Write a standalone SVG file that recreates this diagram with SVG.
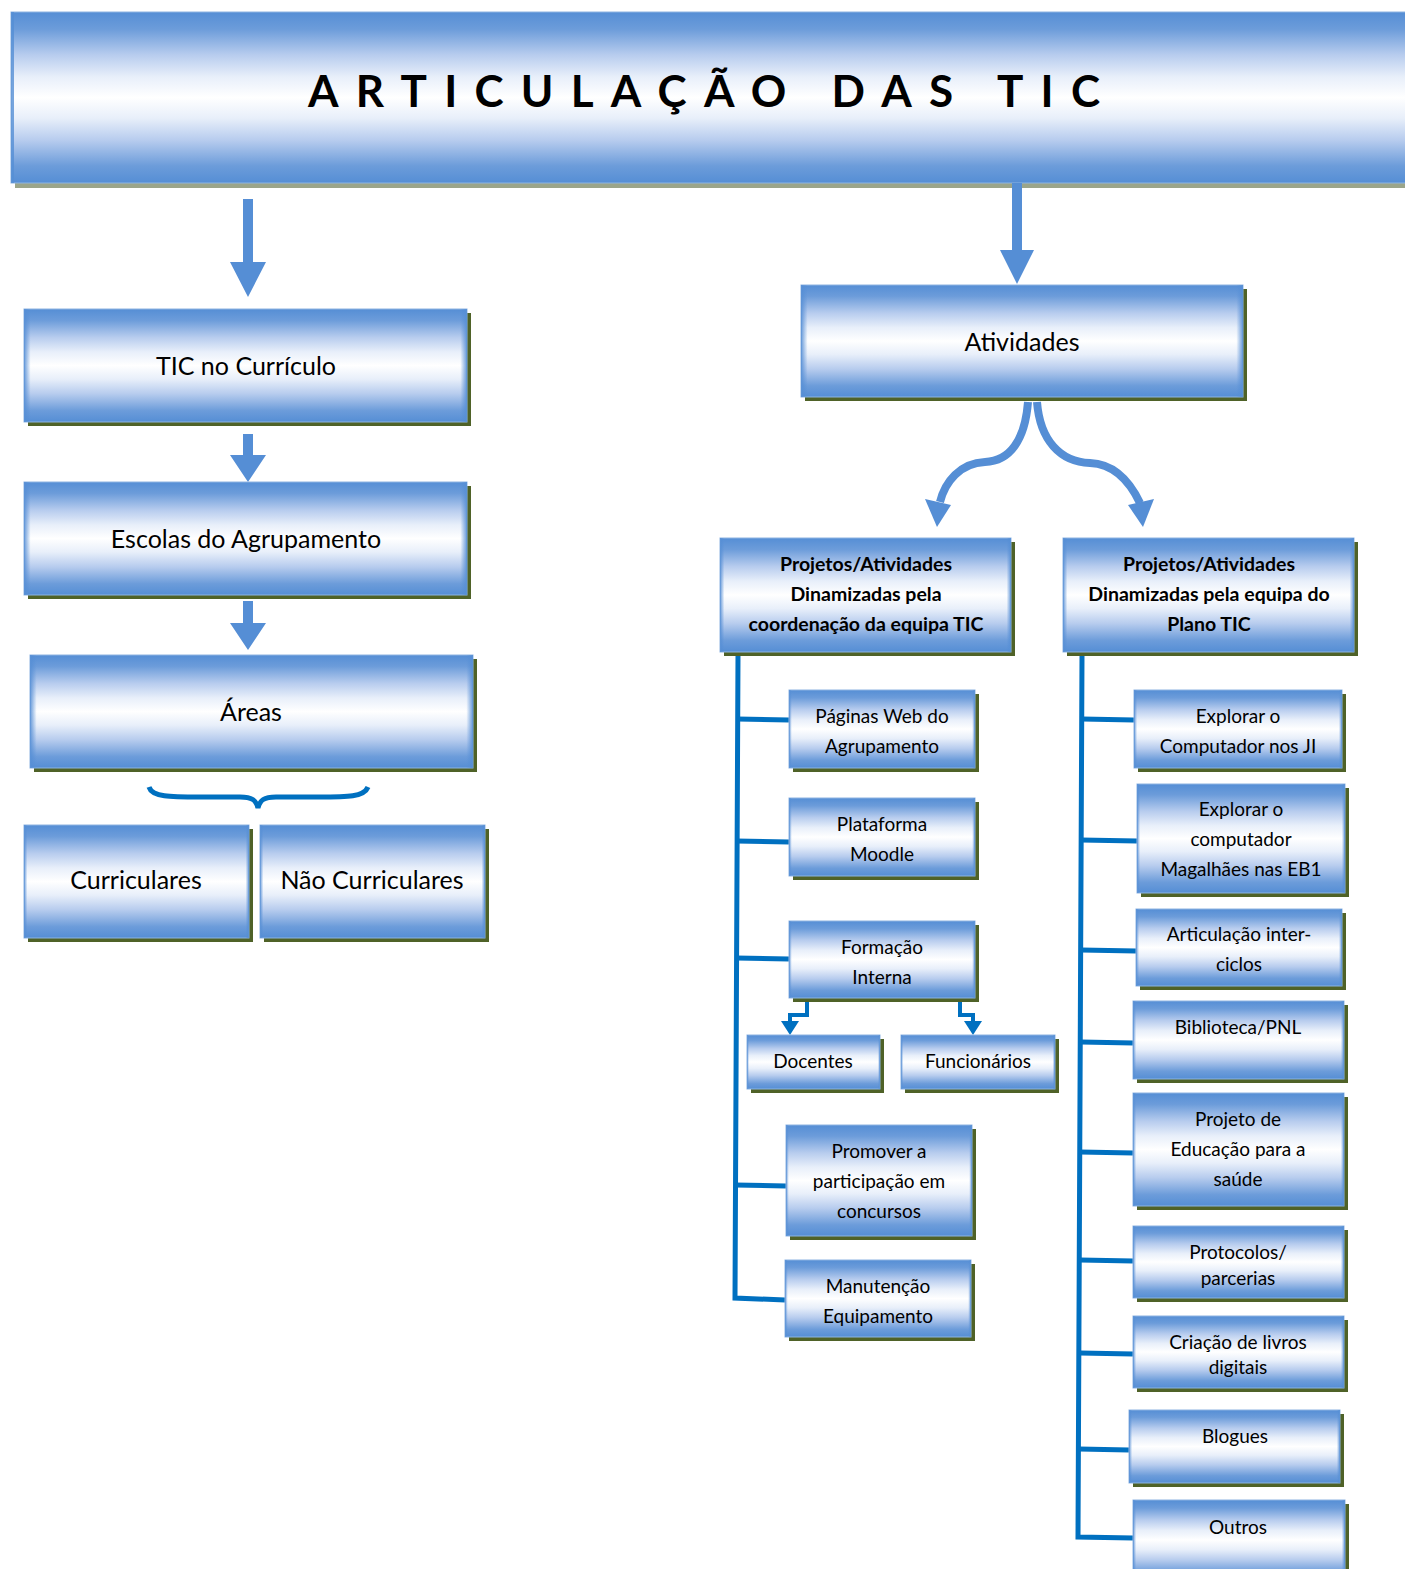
<svg xmlns="http://www.w3.org/2000/svg" width="1405" height="1569" viewBox="0 0 1405 1569">
<defs>
<linearGradient id="g" x1="0" y1="0" x2="0" y2="1">
<stop offset="0" stop-color="#558ED5"/>
<stop offset="0.1" stop-color="#6C9CDA"/>
<stop offset="0.25" stop-color="#B7CCEE"/>
<stop offset="0.38" stop-color="#E8EFFA"/>
<stop offset="0.5" stop-color="#FFFFFF"/>
<stop offset="0.62" stop-color="#E8EFFA"/>
<stop offset="0.75" stop-color="#B7CCEE"/>
<stop offset="0.9" stop-color="#6C9CDA"/>
<stop offset="1" stop-color="#558ED5"/>
</linearGradient>
<linearGradient id="e" x1="0" y1="0" x2="1" y2="0">
<stop offset="0" stop-color="#558ED5" stop-opacity="0.9"/>
<stop offset="0.015" stop-color="#558ED5" stop-opacity="0"/>
<stop offset="0.985" stop-color="#558ED5" stop-opacity="0"/>
<stop offset="1" stop-color="#558ED5" stop-opacity="0.9"/>
</linearGradient>
<style>
.box{fill:url(#g);stroke:#8DB4E2;stroke-width:1}
.edge{fill:url(#e)}
.sh{fill:#4F6228}
.t{font-family:Lato,"Open Sans","Liberation Sans",sans-serif;fill:#000;text-anchor:middle}
.h{font-size:25px}
.s{font-size:19px}
.b{font-size:19.5px;font-weight:bold}
.ln{fill:none;stroke:#0070C0;stroke-width:5}
.ln2{fill:none;stroke:#0070C0;stroke-width:4}
.ba{fill:#558ED5}
.cv{fill:none;stroke:#558ED5;stroke-width:8}
</style>
</defs>
<rect width="1405" height="1569" fill="#FFFFFF"/>

<g id="title">
<rect x="15" y="16" width="1395" height="172" fill="#9BA58A"/>
<rect class="box" x="11" y="12" width="1400" height="171"/>
<rect x="11" y="12" width="3" height="171" fill="#558ED5" opacity="0.8"/>
<text class="t" x="308" y="107" font-size="44" font-weight="bold" style="text-anchor:start" textLength="792" lengthAdjust="spacing">ARTICULAÇÃO DAS TIC</text>
</g>

<g id="connectors">
<polygon class="ba" points="243,199 253,199 253,262 266,262 248,297 230,262 243,262"/>
<polygon class="ba" points="243,434 253,434 253,455 266,455 248,482 230,455 243,455"/>
<polygon class="ba" points="243,601 253,601 253,623 266,623 248,650 230,623 243,623"/>
<polygon class="ba" points="1012,183 1022,183 1022,250 1034,250 1017,284 1000,250 1012,250"/>
<path class="cv" d="M1028,402 C1025,440 1010,461 985,462 C960,463 945,482 940,502"/>
<polygon class="ba" points="925,499 951,505 937,527"/>
<path class="cv" d="M1037,402 C1040,440 1060,462 1090,463 C1115,464 1130,482 1140,503"/>
<polygon class="ba" points="1128,505 1154,499 1143,527"/>
<path class="ln" d="M149,787 C152,797 170,797 200,797 L240,797 C252,797 256,800 258,808 C260,800 264,797 276,797 L318,797 C348,797 364,797 368,787"/>
<path class="ln" d="M738,655 L735,1298 L785,1300"/>
<path class="ln" d="M737,719 L789,720"/>
<path class="ln" d="M736,841 L789,842"/>
<path class="ln" d="M736,958 L789,959"/>
<path class="ln" d="M735,1185 L786,1186"/>
<path class="ln" d="M1082,655 L1078,1537 L1133,1538"/>
<path class="ln" d="M1082,719 L1134,720"/>
<path class="ln" d="M1081,840 L1137,841"/>
<path class="ln" d="M1081,950 L1136,951"/>
<path class="ln" d="M1081,1042 L1133,1043"/>
<path class="ln" d="M1080,1152 L1133,1153"/>
<path class="ln" d="M1080,1260 L1133,1261"/>
<path class="ln" d="M1080,1353 L1133,1354"/>
<path class="ln" d="M1079,1449 L1129,1450"/>
<path class="ln2" d="M807,998 V1015 H790 V1022"/>
<polygon fill="#0070C0" points="781,1021 799,1021 790,1035"/>
<path class="ln2" d="M960,998 V1015 H973 V1022"/>
<polygon fill="#0070C0" points="964,1021 982,1021 973,1035"/>
</g>

<g id="n-curriculo">
<rect class="sh" x="28" y="313" width="443" height="113"/>
<rect class="box" x="24" y="309" width="443" height="113"/>
<rect class="edge" x="24" y="309" width="443" height="113"/>
<text class="t h" x="246" y="375">TIC no Currículo</text>
</g>
<g id="n-escolas">
<rect class="sh" x="28" y="486" width="443" height="113"/>
<rect class="box" x="24" y="482" width="443" height="113"/>
<rect class="edge" x="24" y="482" width="443" height="113"/>
<text class="t h" x="246" y="548">Escolas do Agrupamento</text>
</g>
<g id="n-areas">
<rect class="sh" x="34" y="659" width="443" height="113"/>
<rect class="box" x="30" y="655" width="443" height="113"/>
<rect class="edge" x="30" y="655" width="443" height="113"/>
<text class="t h" x="251" y="721">Áreas</text>
</g>
<g id="n-curriculares">
<rect class="sh" x="28" y="829" width="225" height="113"/>
<rect class="box" x="24" y="825" width="225" height="113"/>
<rect class="edge" x="24" y="825" width="225" height="113"/>
<text class="t h" x="136" y="889">Curriculares</text>
</g>
<g id="n-naocurriculares">
<rect class="sh" x="264" y="829" width="225" height="113"/>
<rect class="box" x="260" y="825" width="225" height="113"/>
<rect class="edge" x="260" y="825" width="225" height="113"/>
<text class="t h" x="372" y="889">Não Curriculares</text>
</g>
<g id="n-atividades">
<rect class="sh" x="805" y="289" width="442" height="112"/>
<rect class="box" x="801" y="285" width="442" height="112"/>
<rect class="edge" x="801" y="285" width="442" height="112"/>
<text class="t h" x="1022" y="351">Atividades</text>
</g>
<g id="n-coord">
<rect class="sh" x="724" y="542" width="291" height="114"/>
<rect class="box" x="720" y="538" width="291" height="114"/>
<rect class="edge" x="720" y="538" width="291" height="114"/>
<text class="t b" x="866" y="571">Projetos/Atividades</text>
<text class="t b" x="866" y="601">Dinamizadas pela</text>
<text class="t b" x="866" y="631">coordenação da equipa TIC</text>
</g>
<g id="n-plano">
<rect class="sh" x="1067" y="542" width="291" height="114"/>
<rect class="box" x="1063" y="538" width="291" height="114"/>
<rect class="edge" x="1063" y="538" width="291" height="114"/>
<text class="t b" x="1209" y="571">Projetos/Atividades</text>
<text class="t b" x="1209" y="601">Dinamizadas pela equipa do</text>
<text class="t b" x="1209" y="631">Plano TIC</text>
</g>

<g id="n-paginas">
<rect class="sh" x="793" y="694" width="186" height="78"/>
<rect class="box" x="789" y="690" width="186" height="78"/>
<rect class="edge" x="789" y="690" width="186" height="78"/>
<text class="t s" x="882" y="723">Páginas Web do</text>
<text class="t s" x="882" y="753">Agrupamento</text>
</g>
<g id="n-moodle">
<rect class="sh" x="793" y="802" width="186" height="78"/>
<rect class="box" x="789" y="798" width="186" height="78"/>
<rect class="edge" x="789" y="798" width="186" height="78"/>
<text class="t s" x="882" y="831">Plataforma</text>
<text class="t s" x="882" y="861">Moodle</text>
</g>
<g id="n-formacao">
<rect class="sh" x="793" y="925" width="186" height="77"/>
<rect class="box" x="789" y="921" width="186" height="77"/>
<rect class="edge" x="789" y="921" width="186" height="77"/>
<text class="t s" x="882" y="954">Formação</text>
<text class="t s" x="882" y="984">Interna</text>
</g>
<g id="n-docentes">
<rect class="sh" x="751" y="1039" width="133" height="54"/>
<rect class="box" x="747" y="1035" width="133" height="54"/>
<rect class="edge" x="747" y="1035" width="133" height="54"/>
<text class="t s" x="813" y="1068">Docentes</text>
</g>
<g id="n-funcionarios">
<rect class="sh" x="905" y="1039" width="154" height="54"/>
<rect class="box" x="901" y="1035" width="154" height="54"/>
<rect class="edge" x="901" y="1035" width="154" height="54"/>
<text class="t s" x="978" y="1068">Funcionários</text>
</g>
<g id="n-concursos">
<rect class="sh" x="790" y="1129" width="186" height="111"/>
<rect class="box" x="786" y="1125" width="186" height="111"/>
<rect class="edge" x="786" y="1125" width="186" height="111"/>
<text class="t s" x="879" y="1158">Promover a</text>
<text class="t s" x="879" y="1188">participação em</text>
<text class="t s" x="879" y="1218">concursos</text>
</g>
<g id="n-manutencao">
<rect class="sh" x="789" y="1264" width="186" height="77"/>
<rect class="box" x="785" y="1260" width="186" height="77"/>
<rect class="edge" x="785" y="1260" width="186" height="77"/>
<text class="t s" x="878" y="1293">Manutenção</text>
<text class="t s" x="878" y="1323">Equipamento</text>
</g>

<g id="n-ji">
<rect class="sh" x="1138" y="694" width="208" height="78"/>
<rect class="box" x="1134" y="690" width="208" height="78"/>
<rect class="edge" x="1134" y="690" width="208" height="78"/>
<text class="t s" x="1238" y="723">Explorar o</text>
<text class="t s" x="1238" y="753">Computador nos JI</text>
</g>
<g id="n-magalhaes">
<rect class="sh" x="1141" y="788" width="208" height="109"/>
<rect class="box" x="1137" y="784" width="208" height="109"/>
<rect class="edge" x="1137" y="784" width="208" height="109"/>
<text class="t s" x="1241" y="816">Explorar o</text>
<text class="t s" x="1241" y="846">computador</text>
<text class="t s" x="1241" y="876">Magalhães nas EB1</text>
</g>
<g id="n-interciclos">
<rect class="sh" x="1140" y="913" width="206" height="77"/>
<rect class="box" x="1136" y="909" width="206" height="77"/>
<rect class="edge" x="1136" y="909" width="206" height="77"/>
<text class="t s" x="1239" y="941">Articulação inter-</text>
<text class="t s" x="1239" y="971">ciclos</text>
</g>
<g id="n-biblioteca">
<rect class="sh" x="1137" y="1005" width="211" height="78"/>
<rect class="box" x="1133" y="1001" width="211" height="78"/>
<rect class="edge" x="1133" y="1001" width="211" height="78"/>
<text class="t s" x="1238" y="1034">Biblioteca/PNL</text>
</g>
<g id="n-saude">
<rect class="sh" x="1137" y="1097" width="211" height="113"/>
<rect class="box" x="1133" y="1093" width="211" height="113"/>
<rect class="edge" x="1133" y="1093" width="211" height="113"/>
<text class="t s" x="1238" y="1126">Projeto de</text>
<text class="t s" x="1238" y="1156">Educação para a</text>
<text class="t s" x="1238" y="1186">saúde</text>
</g>
<g id="n-protocolos">
<rect class="sh" x="1137" y="1230" width="211" height="72"/>
<rect class="box" x="1133" y="1226" width="211" height="72"/>
<rect class="edge" x="1133" y="1226" width="211" height="72"/>
<text class="t s" x="1238" y="1259">Protocolos/</text>
<text class="t s" x="1238" y="1285">parcerias</text>
</g>
<g id="n-livros">
<rect class="sh" x="1137" y="1320" width="211" height="72"/>
<rect class="box" x="1133" y="1316" width="211" height="72"/>
<rect class="edge" x="1133" y="1316" width="211" height="72"/>
<text class="t s" x="1238" y="1349">Criação de livros</text>
<text class="t s" x="1238" y="1374">digitais</text>
</g>
<g id="n-blogues">
<rect class="sh" x="1133" y="1414" width="211" height="73"/>
<rect class="box" x="1129" y="1410" width="211" height="73"/>
<rect class="edge" x="1129" y="1410" width="211" height="73"/>
<text class="t s" x="1235" y="1443">Blogues</text>
</g>
<g id="n-outros">
<rect class="sh" x="1137" y="1504" width="212" height="80"/>
<rect class="box" x="1133" y="1500" width="212" height="80"/>
<rect class="edge" x="1133" y="1500" width="212" height="80"/>
<text class="t s" x="1238" y="1534">Outros</text>
</g>
</svg>
